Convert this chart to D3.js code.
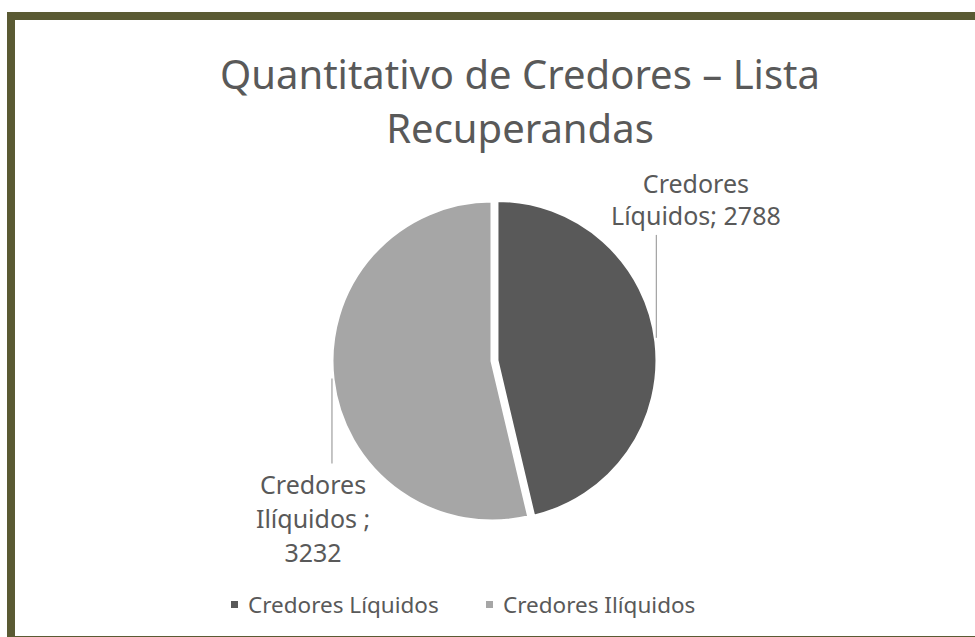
<!doctype html>
<html>
<head>
<meta charset="utf-8">
<script src="https://cdnjs.cloudflare.com/ajax/libs/d3/7.8.5/d3.min.js"></script>
<style>
  html, body { margin: 0; padding: 0; background: #fff; overflow: hidden; }
  text { font-family: "Noto Sans", "Open Sans", sans-serif; fill: #595959; }
</style>
</head>
<body>
<div id="viz"></div>
<script>
// chart data
var categories = ["Credores Líquidos", "Credores Ilíquidos"];
var values = [2788, 3232];
var labelLines = [["Credores", "Líquidos; 2788"], ["Credores", "Ilíquidos ;", "3232"]];
var colors = ["#595959", "#a6a6a6"];
var titleLines = ["Quantitativo de Credores – Lista", "Recuperandas"];

var width = 975, height = 637;
var cx = 492, cy = 361, radius = 160;

var svg = d3.select("#viz").append("svg")
    .attr("width", width)
    .attr("height", height);

// olive frame (runs past right and bottom edges)
svg.append("rect")
    .attr("x", 11).attr("y", 16)
    .attr("width", 1000).attr("height", 624)
    .attr("fill", "#fff")
    .attr("stroke", "#5a5a33")
    .attr("stroke-width", 8);

// title
svg.append("g").selectAll("text")
    .data(titleLines)
    .enter().append("text")
    .attr("x", 520)
    .attr("y", (d, i) => 89 + i * 54)
    .attr("text-anchor", "middle")
    .style("font-size", "40px")
    .text(d => d);

var data = categories.map((c, i) => ({ name: c, value: values[i], lines: labelLines[i], color: colors[i] }));

var pie = d3.pie().sort(null).value(d => d.value);
var arcs = pie(data);

var arc = d3.arc().innerRadius(0).outerRadius(radius);
var explode = [5, 0];

var g = svg.append("g").attr("transform", "translate(" + cx + "," + cy + ")");

var slice = g.selectAll(".slice")
    .data(arcs)
    .enter().append("g")
    .attr("class", "slice")
    .attr("transform", function (d, i) {
        var mid = (d.startAngle + d.endAngle) / 2;
        return "translate(" + (Math.sin(mid) * explode[i]) + "," + (-Math.cos(mid) * explode[i]) + ")";
    });

slice.append("path")
    .attr("d", arc)
    .attr("fill", d => d.data.color)
    .attr("stroke", "#fff")
    .attr("stroke-width", 3);

// data labels with leader lines
var shift = -0.56;
var lineH = [32, 34];
var nudgeX = [0, 20];

slice.each(function (d, i) {
    var el = d3.select(this);
    var mid = (d.startAngle + d.endAngle) / 2 + shift;
    var lx = Math.sin(mid) * 255 + nudgeX[i], ly = -Math.cos(mid) * 255;
    var n = d.data.lines.length;
    var top = ly - (n * lineH[i]) / 2;
    el.append("g").selectAll("text")
        .data(d.data.lines)
        .enter().append("text")
        .attr("x", lx)
        .attr("y", (t, k) => top + k * lineH[i] + 24)
        .attr("text-anchor", "middle")
        .style("font-size", "25px")
        .text(t => t);

    // leader line to the pie's edge
    var a = i === 0 ? d.startAngle + 1.43 : d.endAngle - 1.68;
    var px = Math.sin(a) * (radius + 1), py = -Math.cos(a) * (radius + 1);
    var ey = i === 0 ? top + n * lineH[i] + 2 : top - 6;
    el.append("line")
        .attr("x1", px).attr("x2", px)
        .attr("y1", py).attr("y2", ey)
        .attr("stroke", "#a6a6a6")
        .attr("stroke-width", 1.3);
});

// legend
var legend = svg.append("g").selectAll("g")
    .data(data)
    .enter().append("g")
    .attr("transform", (d, i) => "translate(" + (231 + i * 255) + ",605)");

legend.append("rect")
    .attr("x", 0).attr("y", -4)
    .attr("width", 7).attr("height", 7)
    .attr("fill", d => d.color);

legend.append("text")
    .attr("x", 17).attr("y", 8)
    .style("font-size", "22.5px")
    .text(d => d.name);
</script>
</body>
</html>
